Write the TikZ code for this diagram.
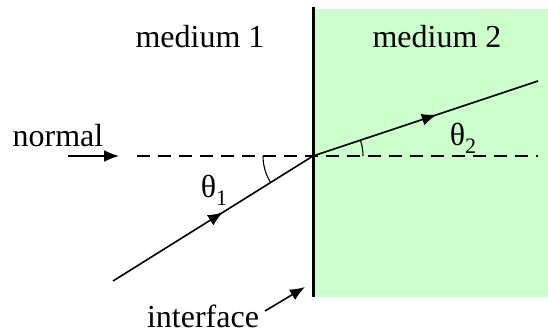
\documentclass[tikz,border=0pt]{standalone}
\usepackage{fontspec}
\setmainfont{Liberation Serif}
\usetikzlibrary{arrows.meta,decorations.markings,calc}
\definecolor{mediumgreen}{RGB}{204,255,204}
\newcommand{\thsub}[1]{θ\raisebox{-0.25em}{\fontsize{22}{24}\selectfont #1}}
\tikzset{
  lbl/.style={inner sep=0pt, font=\fontsize{32}{35}\selectfont},
  ray/.style={line width=1.6pt, postaction={decorate},
    decoration={markings, mark=at position 0.55 with {\arrow{Latex[length=15pt,width=12pt]}}}},
  pointer/.style={line width=1.6pt, -{Latex[length=15pt,width=12pt]}},
  normalline/.style={line width=1.2pt, dash pattern=on 13pt off 8pt},
  anglearc/.style={line width=1.1pt}
}
\begin{document}
\begin{tikzpicture}[x=1pt,y=-1pt]
\useasboundingbox (0,0) rectangle (548,333);
\fill[mediumgreen] (313,9) rectangle (548,297);
\coordinate (O) at (313,156);
\coordinate (S) at (113,281);
\coordinate (E) at (538,81);
\coordinate (DL) at (137,156);
\coordinate (DR) at (538,156);
\draw[normalline] (DL) -- (DR);
\draw[line width=3pt] (313,7) coordinate (IT) -- (313,297) coordinate (IB);
\draw[ray] (S) -- (O);
\draw[ray] (O) -- (E);
\draw[anglearc] ($(O)+(-50,0)$) arc[start angle=180, end angle=148, radius=50];
\draw[anglearc] ($(O)+(50,0)$) arc[start angle=0, end angle=-18.4, radius=50];
\node[lbl] (m1) at (200,37) {medium 1};
\node[lbl] (m2) at (437,37) {medium 2};
\node[lbl] (nrm) at (58,136) {normal};
\node[lbl] (t1) at (214,190) {\thsub{1}};
\node[lbl] (t2) at (463,138) {\thsub{2}};
\node[lbl] (itf) at (203,316) {interface};
\coordinate (na) at (68,156);
\coordinate (nb) at (119,156);
\draw[pointer] (na) -- (nb);
\coordinate (ia) at (265,311);
\coordinate (ib) at (305,287);
\draw[pointer] (ia) -- (ib);
\end{tikzpicture}
\end{document}
